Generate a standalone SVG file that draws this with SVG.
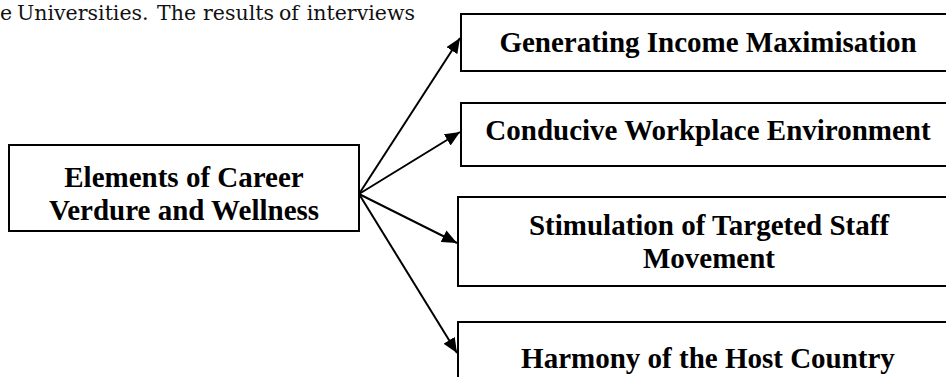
<svg xmlns="http://www.w3.org/2000/svg" width="946" height="377" viewBox="0 0 946 377">
<style>
.box{fill:#fff;stroke:#000;stroke-width:2}
.lbl{font-family:"Liberation Serif","Times New Roman",serif;font-weight:bold;font-size:29px;fill:#000;text-anchor:middle}
.para{font-family:"DejaVu Serif","Liberation Serif",serif;font-size:20.5px;fill:#111}
.conn{stroke:#000;stroke-width:2;fill:none;marker-end:url(#ah)}
</style>
<defs>
<marker id="ah" markerUnits="userSpaceOnUse" markerWidth="16" markerHeight="14" refX="15" refY="6.5" orient="auto">
<path d="M0,0 L15,6.5 L0,13 Z" fill="#000"/>
</marker>
</defs>
<rect width="946" height="377" fill="#fff"/>
<g id="paragraph">
<text class="para" y="20"><tspan x="0">e</tspan><tspan x="17">Universities.</tspan><tspan x="157">The</tspan><tspan x="203">results</tspan><tspan x="279">of</tspan></text>
<text class="para" y="20" x="415" text-anchor="end">interviews</text>
</g>
<g id="connectors">
<line class="conn" x1="359" y1="194" x2="460" y2="38"/>
<line class="conn" x1="359" y1="194" x2="460" y2="132"/>
<line class="conn" x1="359" y1="194" x2="457" y2="243"/>
<line class="conn" x1="359" y1="194" x2="457" y2="353"/>
</g>
<g id="main">
<rect class="box" x="9" y="145" width="350" height="86"/>
<text class="lbl" x="184" y="187">Elements of Career</text>
<text class="lbl" x="184" y="220">Verdure and Wellness</text>
</g>
<g id="n1">
<rect class="box" x="461" y="14" width="500" height="57"/>
<text class="lbl" x="708" y="52">Generating Income Maximisation</text>
</g>
<g id="n2">
<rect class="box" x="461" y="103" width="500" height="63"/>
<text class="lbl" x="708" y="140">Conducive Workplace Environment</text>
</g>
<g id="n3">
<rect class="box" x="458" y="197" width="500" height="89"/>
<text class="lbl" x="709" y="235">Stimulation of Targeted Staff</text>
<text class="lbl" x="709" y="268">Movement</text>
</g>
<g id="n4">
<rect class="box" x="458" y="322" width="500" height="100"/>
<text class="lbl" x="708" y="368">Harmony of the Host Country</text>
</g>
</svg>
